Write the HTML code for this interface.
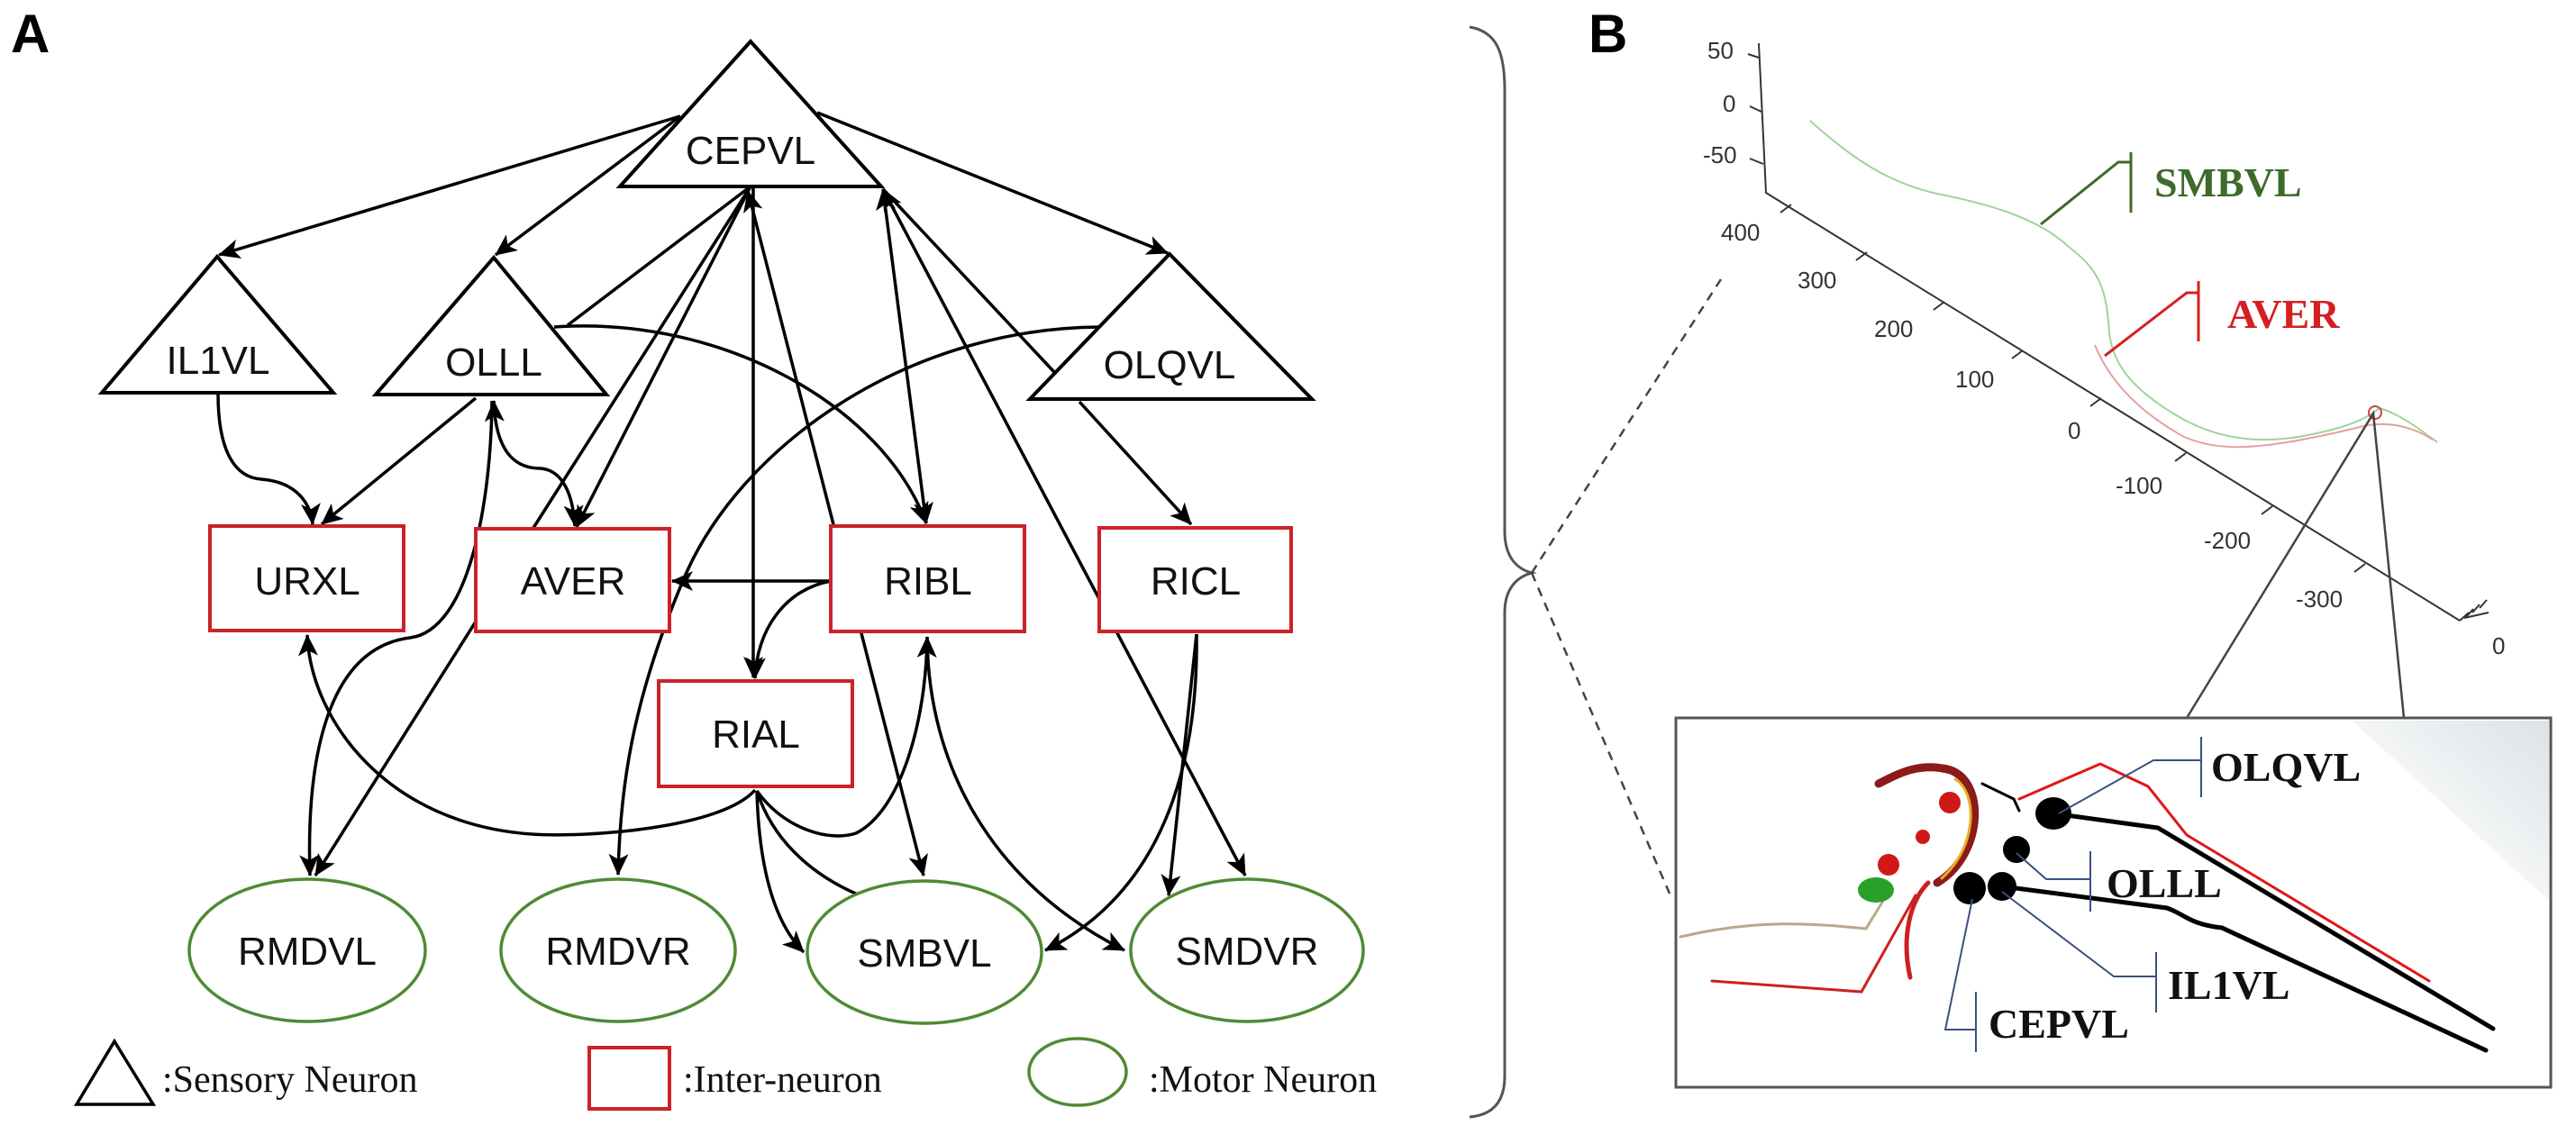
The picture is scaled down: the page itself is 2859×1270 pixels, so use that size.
<!DOCTYPE html>
<html><head><meta charset="utf-8"><style>
html,body{margin:0;padding:0;background:#fff;}
svg{display:block;}
.n{font-family:"Liberation Sans","DejaVu Sans",sans-serif;font-size:44px;fill:#111;text-anchor:middle;}
.lg{font-family:"Liberation Serif",serif;font-size:42px;fill:#111;}
.ax{font-family:"Liberation Sans",sans-serif;font-size:26px;fill:#333;}
.bl{font-family:"Liberation Serif",serif;font-weight:bold;font-size:46px;}
</style></head><body>
<svg width="2859" height="1270" viewBox="0 0 2859 1270" xmlns="http://www.w3.org/2000/svg">
<defs>
<marker id="ar" markerUnits="userSpaceOnUse" markerWidth="24" markerHeight="22" viewBox="0 0 24 22" refX="23" refY="11" orient="auto-start-reverse">
<path d="M0,0 L24,11 L0,22 L6,11 z" fill="#000"/></marker>
<linearGradient id="gr" x1="1" y1="0" x2="0" y2="1"><stop offset="0" stop-color="#dde2e6"/><stop offset="0.5" stop-color="#f3f5f6"/><stop offset="1" stop-color="#fff" stop-opacity="0"/></linearGradient>
</defs>
<rect width="2859" height="1270" fill="#fff"/>
<text x="12" y="58" font-family="Liberation Sans,sans-serif" font-weight="bold" font-size="60">A</text>
<text x="1763" y="58" font-family="Liberation Sans,sans-serif" font-weight="bold" font-size="60">B</text>

<g fill="none" stroke="#000" stroke-width="3.5">
<path d="M755,129 L243,283" marker-end="url(#ar)"/>
<path d="M755,129 L550,283" marker-end="url(#ar)"/>
<path d="M907,125 L1296,281" marker-end="url(#ar)"/>
<path d="M833,207 L640,585" marker-end="url(#ar)"/>
<path d="M833,207 L592,586"/>
<path d="M833,207 L630,361"/>
<path d="M836,207 L836,752" marker-end="url(#ar)"/>
<path d="M830,212 L1025,972" marker-start="url(#ar)" marker-end="url(#ar)"/>
<path d="M980,210 L1028,581" marker-start="url(#ar)" marker-end="url(#ar)"/>
<path d="M980,210 L1382,972" marker-start="url(#ar)" marker-end="url(#ar)"/>
<path d="M980,210 L1170,413"/>
<path d="M615,363 C800,350 980,450 1028,581" marker-end="url(#ar)"/>
<path d="M1220,363 C1000,365 820,500 760,640 C700,780 688,880 686,971" marker-end="url(#ar)"/>
<path d="M1198,446 L1322,582" marker-end="url(#ar)"/>
<path d="M242,437 C242,500 260,530 290,532 C330,535 345,560 347,582" marker-end="url(#ar)"/>
<path d="M528,442 L357,582" marker-end="url(#ar)"/>
<path d="M548,445 C550,500 570,520 600,520 C625,522 636,550 638,584" marker-start="url(#ar)" marker-end="url(#ar)"/>
<path d="M546,445 C545,560 520,700 455,708 C360,720 340,850 344,972" marker-end="url(#ar)"/>
<path d="M528,690 L350,972" marker-end="url(#ar)"/>
<path d="M838,877 C800,920 650,930 590,926 C430,915 345,800 341,705" marker-end="url(#ar)"/>
<path d="M922,645 L746,645" marker-end="url(#ar)"/>
<path d="M922,645 C870,655 840,700 838,753" marker-end="url(#ar)"/>
<path d="M840,878 C870,920 920,935 950,925 C1000,900 1028,800 1029,707" marker-end="url(#ar)"/>
<path d="M840,878 C842,950 855,1020 892,1057" marker-end="url(#ar)"/>
<path d="M840,878 C860,940 910,975 952,993"/>
<path d="M1029,707 C1030,850 1100,980 1248,1055" marker-end="url(#ar)"/>
<path d="M1328,704 C1330,850 1290,990 1160,1055" marker-end="url(#ar)"/>
<path d="M1328,704 L1297,994" marker-end="url(#ar)"/>
</g>

<g fill="#fff" stroke="#000" stroke-width="4">
<polygon points="833,46 978,207 688,207" fill="none"/>
<polygon points="241,285 370,436 113,436" fill="none"/>
<polygon points="548,286 673,438 417,438" fill="none"/>
<polygon points="1298,282 1456,443 1143,443" fill="none"/>
</g>
<g fill="#fff" stroke="#cc2229" stroke-width="4">
<rect x="233" y="584" width="215" height="116"/>
<rect x="528" y="587" width="215" height="114"/>
<rect x="922" y="584" width="215" height="117"/>
<rect x="1220" y="586" width="213" height="115"/>
<rect x="731" y="756" width="215" height="117"/>
</g>
<g fill="#fff" stroke="#4f8a36" stroke-width="3.5">
<ellipse cx="341" cy="1055" rx="131" ry="79"/>
<ellipse cx="686" cy="1055" rx="130" ry="79"/>
<ellipse cx="1026" cy="1057" rx="130" ry="79"/>
<ellipse cx="1384" cy="1055" rx="129" ry="79"/>
</g>
<text class="n" x="833" y="182">CEPVL</text>
<text class="n" x="242" y="415">IL1VL</text>
<text class="n" x="548" y="417">OLLL</text>
<text class="n" x="1298" y="420">OLQVL</text>
<text class="n" x="341" y="660">URXL</text>
<text class="n" x="636" y="660">AVER</text>
<text class="n" x="1030" y="660">RIBL</text>
<text class="n" x="1327" y="660">RICL</text>
<text class="n" x="839" y="830">RIAL</text>
<text class="n" x="341" y="1071">RMDVL</text>
<text class="n" x="686" y="1071">RMDVR</text>
<text class="n" x="1026" y="1073">SMBVL</text>
<text class="n" x="1384" y="1071">SMDVR</text>

<polygon points="127,1156 170,1226 85,1226" fill="none" stroke="#000" stroke-width="3.5"/>
<text class="lg" x="180" y="1212">:Sensory Neuron</text>
<rect x="654" y="1163" width="89" height="68" fill="none" stroke="#cc2229" stroke-width="4"/>
<text class="lg" x="758" y="1212">:Inter-neuron</text>
<ellipse cx="1196" cy="1190" rx="54" ry="37" fill="none" stroke="#4f8a36" stroke-width="3.5"/>
<text class="lg" x="1275" y="1212">:Motor Neuron</text>

<path d="M1631,30 C1662,35 1670,60 1670,100 L1670,590 C1670,620 1685,632 1700,636 C1685,640 1670,652 1670,680 L1670,1195 C1670,1225 1655,1238 1631,1240" fill="none" stroke="#555" stroke-width="3"/>
<g stroke="#444" stroke-width="2.5" stroke-dasharray="10 8"><path d="M1700,636 L1910,310"/><path d="M1700,636 L1853,992"/></g>

<g stroke="#333" stroke-width="2" fill="none">
<path d="M1952,48 L1960,214 L2730,689"/>
<path d="M1940,60 L1952,64 M1942,118 L1955,124 M1942,176 L1957,182"/>
<path d="M1976,236 L1988,227 M2060,289 L2072,280 M2146,344 L2158,335 M2233,398 L2245,389 M2320,451 L2332,442 M2414,512 L2426,503 M2510,571 L2522,562 M2613,635 L2625,626"/>
<path d="M2730,689 L2740,680 M2737,685 L2745,676 M2744,680 L2752,671 M2752,675 L2760,666 M2735,686 L2762,680"/>
</g>
<text class="ax" x="1895" y="65">50</text>
<text class="ax" x="1912" y="124">0</text>
<text class="ax" x="1890" y="181">-50</text>
<text class="ax" x="1910" y="267">400</text>
<text class="ax" x="1995" y="320">300</text>
<text class="ax" x="2080" y="374">200</text>
<text class="ax" x="2170" y="430">100</text>
<text class="ax" x="2295" y="487">0</text>
<text class="ax" x="2348" y="548">-100</text>
<text class="ax" x="2446" y="609">-200</text>
<text class="ax" x="2548" y="674">-300</text>
<text class="ax" x="2766" y="726">0</text>

<path d="M2009,134 C2060,180 2100,204 2150,215 C2200,225 2260,240 2296,274 C2330,300 2338,320 2341,370 C2345,400 2360,430 2424,466 C2460,485 2500,493 2551,485 C2590,478 2620,470 2641,453 C2665,460 2690,480 2705,491" fill="none" stroke="#9fd49a" stroke-width="2"/>
<path d="M2325,383 C2340,420 2370,455 2424,485 C2460,500 2500,503 2615,475 C2650,465 2680,475 2700,488" fill="none" stroke="#e6a0a0" stroke-width="2"/>
<circle cx="2636" cy="458" r="7" fill="none" stroke="#c44" stroke-width="2"/>
<path d="M2265,249 L2351,180 L2365,180 M2365,169 L2365,236" fill="none" stroke="#3d6b2a" stroke-width="3"/>
<text class="bl" x="2391" y="218" fill="#3d6b2a">SMBVL</text>
<path d="M2336,395 L2427,325 L2440,325 M2440,312 L2440,379" fill="none" stroke="#d42020" stroke-width="3"/>
<text class="bl" x="2472" y="364" fill="#d42020">AVER</text>
<path d="M2427,797 L2634,459 L2668,797" fill="none" stroke="#444" stroke-width="2.5"/>

<rect x="1860" y="797" width="971" height="410" fill="#fff" stroke="#555" stroke-width="3"/>
<polygon points="2610,800 2829,800 2829,1000" fill="url(#gr)"/>
<g fill="none" stroke-linecap="round">
<path d="M1865,1040 C1950,1020 2010,1025 2071,1031 L2090,1000" stroke="#b9a88a" stroke-width="3"/>
<path d="M1900,1089 L2066,1101 L2126,994" stroke="#cc2020" stroke-width="3"/>
<path d="M2150,980 C2200,950 2205,870 2165,855 C2130,845 2105,860 2085,870" stroke="#8b1a1a" stroke-width="9"/>
<path d="M2155,975 C2195,940 2195,880 2170,865" stroke="#e8b020" stroke-width="3"/>
<path d="M2120,1085 C2110,1040 2120,1000 2140,980" stroke="#cc2020" stroke-width="5"/>
<path d="M2241,887 L2331,848 L2384,873 L2427,927 L2696,1089" stroke="#e01818" stroke-width="3"/>
<path d="M2279,903 L2395,919 L2767,1142" stroke="#000" stroke-width="5"/>
<path d="M2222,984 L2405,1008 C2425,1015 2430,1026 2466,1030 L2759,1166" stroke="#000" stroke-width="5"/>
<path d="M2200,870 L2235,887 L2241,900" stroke="#000" stroke-width="3"/>
</g>
<circle cx="2164" cy="891" r="12" fill="#d01818"/>
<circle cx="2096" cy="960" r="12" fill="#d01818"/>
<circle cx="2134" cy="929" r="8" fill="#d01818"/>
<ellipse cx="2082" cy="988" rx="20" ry="14" fill="#2aa02a"/>
<ellipse cx="2279" cy="903" rx="20" ry="18" fill="#000"/>
<circle cx="2238" cy="943" r="15" fill="#000"/>
<circle cx="2186" cy="986" r="18" fill="#000"/>
<circle cx="2222" cy="984" r="16" fill="#000"/>
<g fill="none" stroke="#3a5080" stroke-width="2">
<path d="M2285,903 L2390,844 L2443,844 M2443,818 L2443,885"/>
<path d="M2238,947 L2271,976 L2320,976 M2320,945 L2320,1012"/>
<path d="M2222,990 L2346,1084 L2393,1084 M2393,1057 L2393,1124"/>
<path d="M2189,998 L2159,1143 L2193,1143 M2193,1101 L2193,1168"/>
</g>
<text class="bl" x="2454" y="867" fill="#111">OLQVL</text>
<text class="bl" x="2338" y="996" fill="#111">OLLL</text>
<text class="bl" x="2406" y="1109" fill="#111">IL1VL</text>
<text class="bl" x="2207" y="1152" fill="#111">CEPVL</text>
</svg>
</body></html>
